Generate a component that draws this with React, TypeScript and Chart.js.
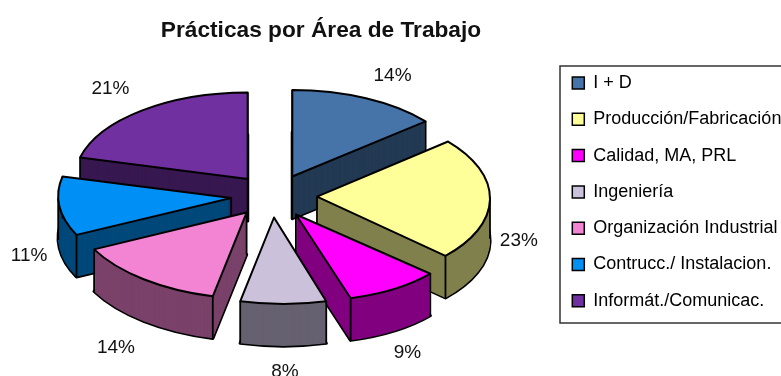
import React, { useEffect, useRef } from "react";
import { Chart, registerables } from "chart.js";

Chart.register(...registerables);

const titleText = "Prácticas por Área de Trabajo";
const categories = [
  "I + D",
  "Producción/Fabricación",
  "Calidad, MA, PRL",
  "Ingeniería",
  "Organización Industrial",
  "Contrucc./ Instalacion.",
  "Informát./Comunicac.",
];
const shares = [14, 23, 9, 8, 14, 11, 21];
const topColors = ["#4673A8", "#FFFF99", "#FF00FF", "#CCC1DA", "#F384D4", "#008FF5", "#7030A0"];
const sideColors = ["#233A54", "#80804D", "#800080", "#666170", "#7A426A", "#00487A", "#381850"];

// Style of the 3D projection
const PIE_CX = 274;
const PIE_CY = 196;
const PIE_RADIUS = 173;
const EXPLODE = 43;
const SQUASH = 0.5;
const DEPTH = 42;
const sliceSkew = [0, 0.04, 0.14, 0.11, 0.11, 0.05, 0];
const LABEL_RX = 262;
const LABEL_RY = 135;
const labelNudgeX = [7, -17, 0, 11, 9, 16, -3];
const labelNudgeY = [-19, 20, 20, 20, 27, 26, -22];

const FONT = "'Liberation Sans', Arial, sans-serif";

const projectPlugin = {
  id: "project3d",
  afterLayout(chart: any) {
    const t = chart.titleBlock;
    if (t) {
      const w = t.right - t.left;
      t.left = 321 - w / 2;
      t.right = 321 + w / 2;
      t.top = 17;
      t.bottom = t.top + t.height;
    }
    const l = chart.legend;
    if (l) {
      l.left = 554;
      l.right = 781;
      l.top = 55.7;
      l.bottom = 340;
    }
  },
  beforeDatasetsDraw(chart: any) {
    const { ctx } = chart;
    const arcs = chart.getDatasetMeta(0).data as any[];

    const mid = (a: any) => (a.startAngle + a.endAngle) / 2;
    const apex = (a: any) => {
      const m = mid(a);
      return {
        x: PIE_CX + Math.cos(m) * EXPLODE,
        y: PIE_CY + Math.sin(m) * EXPLODE * SQUASH,
      };
    };
    const toScreen = (a: any, skew: number, angle: number, r: number) => {
      const p = apex(a);
      const yy = Math.sin(angle) * r * SQUASH;
      return { x: p.x + Math.cos(angle) * r + skew * yy, y: p.y + yy };
    };
    const withProjection = (a: any, skew: number, dy: number, fn: () => void) => {
      const p = apex(a);
      ctx.save();
      ctx.translate(p.x, p.y + dy);
      ctx.transform(1, 0, skew, 1, 0, 0);
      ctx.scale(1, SQUASH);
      ctx.translate(-a.x, -a.y);
      fn();
      ctx.restore();
    };
    const strokeOutline = (a: any, skew: number, dy: number, width: number) => {
      ctx.beginPath();
      withProjection(a, skew, dy, () => {
        ctx.moveTo(a.x, a.y);
        ctx.arc(a.x, a.y, a.outerRadius, a.startAngle, a.endAngle);
        ctx.closePath();
      });
      ctx.lineWidth = width;
      ctx.strokeStyle = "#000";
      ctx.lineJoin = "round";
      ctx.stroke();
    };
    const drawFace = (a: any, skew: number, color: string, dy: number) => {
      const keep = a.options;
      a.options = { ...keep, backgroundColor: color, borderWidth: 0 };
      withProjection(a, skew, dy, () => a.draw(ctx));
      a.options = keep;
    };
    const verticalEdge = (a: any, skew: number, angle: number, r: number) => {
      const p = toScreen(a, skew, angle, r);
      ctx.beginPath();
      ctx.moveTo(p.x, p.y);
      ctx.lineTo(p.x, p.y + DEPTH);
      ctx.lineWidth = 1.8;
      ctx.strokeStyle = "#000";
      ctx.stroke();
    };

    const order = arcs.map((a, i) => ({ a, i })).sort((p, q) => apex(p.a).y - apex(q.a).y);

    order.forEach(({ a, i }) => {
      const k = sliceSkew[i];
      strokeOutline(a, k, DEPTH, 3.2);
      for (let d = DEPTH; d >= 0; d--) drawFace(a, k, sideColors[i], d);
      verticalEdge(a, k, a.startAngle, 0);
      verticalEdge(a, k, a.startAngle, a.outerRadius);
      verticalEdge(a, k, a.endAngle, a.outerRadius);
      [0, Math.PI, 2 * Math.PI].forEach((ang) => {
        if (ang > a.startAngle && ang < a.endAngle) verticalEdge(a, k, ang, a.outerRadius);
      });
      drawFace(a, k, topColors[i], 0);
      strokeOutline(a, k, 0, 2);
    });
    return false;
  },
  afterDraw(chart: any) {
    const { ctx } = chart;
    const arcs = chart.getDatasetMeta(0).data as any[];
    ctx.save();
    ctx.font = `19px ${FONT}`;
    ctx.fillStyle = "#111";
    ctx.textAlign = "center";
    ctx.textBaseline = "middle";
    arcs.forEach((a, i) => {
      const m = (a.startAngle + a.endAngle) / 2;
      const x = PIE_CX + Math.cos(m) * LABEL_RX + labelNudgeX[i];
      const y = PIE_CY + DEPTH / 2 + Math.sin(m) * LABEL_RY + labelNudgeY[i];
      ctx.fillText(`${shares[i]}%`, x, y);
    });
    ctx.restore();
  },
  beforeDraw(chart: any) {
    const { ctx } = chart;
    ctx.save();
    ctx.fillStyle = "#fff";
    ctx.fillRect(0, 0, chart.width, chart.height);
    ctx.strokeStyle = "#333";
    ctx.lineWidth = 1.5;
    ctx.strokeRect(560, 66, 240, 257);
    ctx.restore();
  },
};

export default function App() {
  const ref = useRef<HTMLCanvasElement>(null);
  useEffect(() => {
    document.body.style.margin = "0";
    const chart = new Chart(ref.current as HTMLCanvasElement, {
      type: "pie",
      data: {
        labels: categories,
        datasets: [
          {
            data: shares,
            backgroundColor: topColors,
            borderWidth: 0,
          },
        ],
      },
      options: {
        responsive: false,
        animation: false,
        radius: PIE_RADIUS,
        layout: { padding: 0 },
        plugins: {
          title: {
            display: true,
            text: titleText,
            color: "#111",
            font: { family: FONT, size: 22.7, weight: "bold" },
            padding: 0,
          },
          legend: {
            display: true,
            position: "right",
            align: "start",
            maxWidth: 228,
            labels: {
              boxWidth: 12,
              boxHeight: 12,
              padding: 18.3,
              color: "#111",
              font: { family: FONT, size: 18 },
              generateLabels: () =>
                categories.map((text, i) => ({
                  text,
                  fillStyle: topColors[i],
                  strokeStyle: "#000",
                  lineWidth: 1.5,
                  index: i,
                  hidden: false,
                })),
            },
          },
          tooltip: { enabled: false },
        },
      } as any,
      plugins: [projectPlugin as any],
    });
    return () => chart.destroy();
  }, []);
  return <canvas ref={ref} width={781} height={376} style={{ display: "block" }} />;
}
